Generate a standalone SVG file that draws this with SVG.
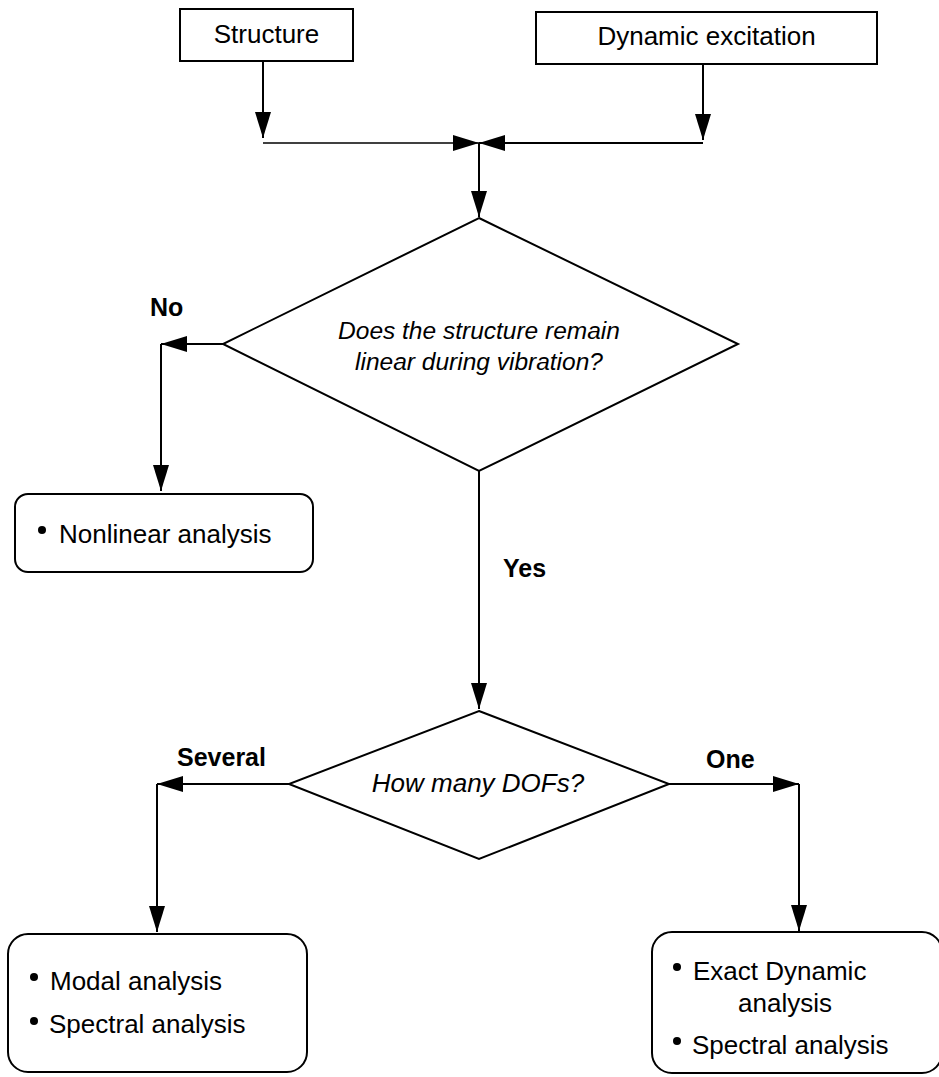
<svg xmlns="http://www.w3.org/2000/svg" width="939" height="1077" viewBox="0 0 939 1077">
<style>
  .box { fill: #ffffff; stroke: #000000; stroke-width: 2; }
  .ln { fill: none; stroke: #000000; stroke-width: 2; }
  .t { font-family: "Liberation Sans", Arial, sans-serif; font-size: 26px; fill: #000000; }
  .q { font-family: "Liberation Sans", Arial, sans-serif; font-size: 24.5px; font-style: italic; fill: #000000; }
  .q2 { font-family: "Liberation Sans", Arial, sans-serif; font-size: 26px; font-style: italic; fill: #000000; }
  .lbl { font-family: "Liberation Sans", Arial, sans-serif; font-size: 25px; font-weight: bold; fill: #000000; }
  .dot { fill: #000000; }
</style>
<defs>
  <marker id="arr" markerUnits="userSpaceOnUse" markerWidth="26" markerHeight="16" refX="26" refY="8" orient="auto" viewBox="0 0 26 16">
    <path d="M0,0 L26,8 L0,16 z" fill="#000000"/>
  </marker>
</defs>
<rect width="939" height="1077" fill="#ffffff"/>

<g id="connectors">
  <line class="ln" x1="263" y1="62" x2="263" y2="138" marker-end="url(#arr)"/>
  <line class="ln" x1="703" y1="65" x2="703" y2="140" marker-end="url(#arr)"/>
  <line class="ln" x1="263" y1="143" x2="479" y2="143" marker-end="url(#arr)" style="stroke-width:1.6"/>
  <line class="ln" x1="703" y1="143" x2="479" y2="143" marker-end="url(#arr)"/>
  <line class="ln" x1="479" y1="143" x2="479" y2="217" marker-end="url(#arr)"/>
  <line class="ln" x1="223" y1="344" x2="161" y2="344" marker-end="url(#arr)"/>
  <line class="ln" x1="161" y1="344" x2="161" y2="491" marker-end="url(#arr)"/>
  <line class="ln" x1="479" y1="470" x2="479" y2="709" marker-end="url(#arr)"/>
  <line class="ln" x1="289" y1="784" x2="157" y2="784" marker-end="url(#arr)"/>
  <line class="ln" x1="157" y1="784" x2="157" y2="932" marker-end="url(#arr)"/>
  <line class="ln" x1="669" y1="784" x2="799" y2="784" marker-end="url(#arr)"/>
  <line class="ln" x1="799" y1="784" x2="799" y2="931" marker-end="url(#arr)"/>
  <text class="lbl" x="150" y="316">No</text>
  <text class="lbl" x="503" y="577">Yes</text>
  <text class="lbl" x="177" y="766">Several</text>
  <text class="lbl" x="706" y="768">One</text>
</g>

<g id="node-structure">
  <rect class="box" x="180" y="9" width="173" height="52"/>
  <text class="t" x="266.5" y="43" text-anchor="middle">Structure</text>
</g>

<g id="node-excitation">
  <rect class="box" x="536" y="12" width="341" height="52"/>
  <text class="t" x="706.5" y="45" text-anchor="middle">Dynamic excitation</text>
</g>

<g id="node-linear">
  <polygon class="box" points="479,218 738,344 479,471 223,344"/>
  <text class="q" x="479" y="339" text-anchor="middle">Does the structure remain</text>
  <text class="q" x="479" y="370" text-anchor="middle">linear during vibration?</text>
</g>

<g id="node-nonlinear">
  <rect class="box" x="15" y="494" width="298" height="78" rx="13" ry="13"/>
  <circle class="dot" cx="42" cy="530" r="4"/>
  <text class="t" x="59" y="543">Nonlinear analysis</text>
</g>

<g id="node-dofs">
  <polygon class="box" points="479,711 669,784 479,859 289,784"/>
  <text class="q2" x="478" y="792" text-anchor="middle">How many DOFs?</text>
</g>

<g id="node-several">
  <rect class="box" x="8" y="934" width="299" height="138" rx="20" ry="20"/>
  <circle class="dot" cx="34" cy="977" r="4"/>
  <text class="t" x="50" y="990">Modal analysis</text>
  <circle class="dot" cx="34" cy="1021" r="4"/>
  <text class="t" x="49" y="1033">Spectral analysis</text>
</g>

<g id="node-one">
  <rect class="box" x="652" y="932" width="290" height="141" rx="20" ry="20"/>
  <circle class="dot" cx="677" cy="967" r="4"/>
  <text class="t" x="693" y="980">Exact Dynamic</text>
  <text class="t" x="738" y="1012">analysis</text>
  <circle class="dot" cx="677" cy="1041" r="4"/>
  <text class="t" x="692" y="1054">Spectral analysis</text>
</g>
</svg>
